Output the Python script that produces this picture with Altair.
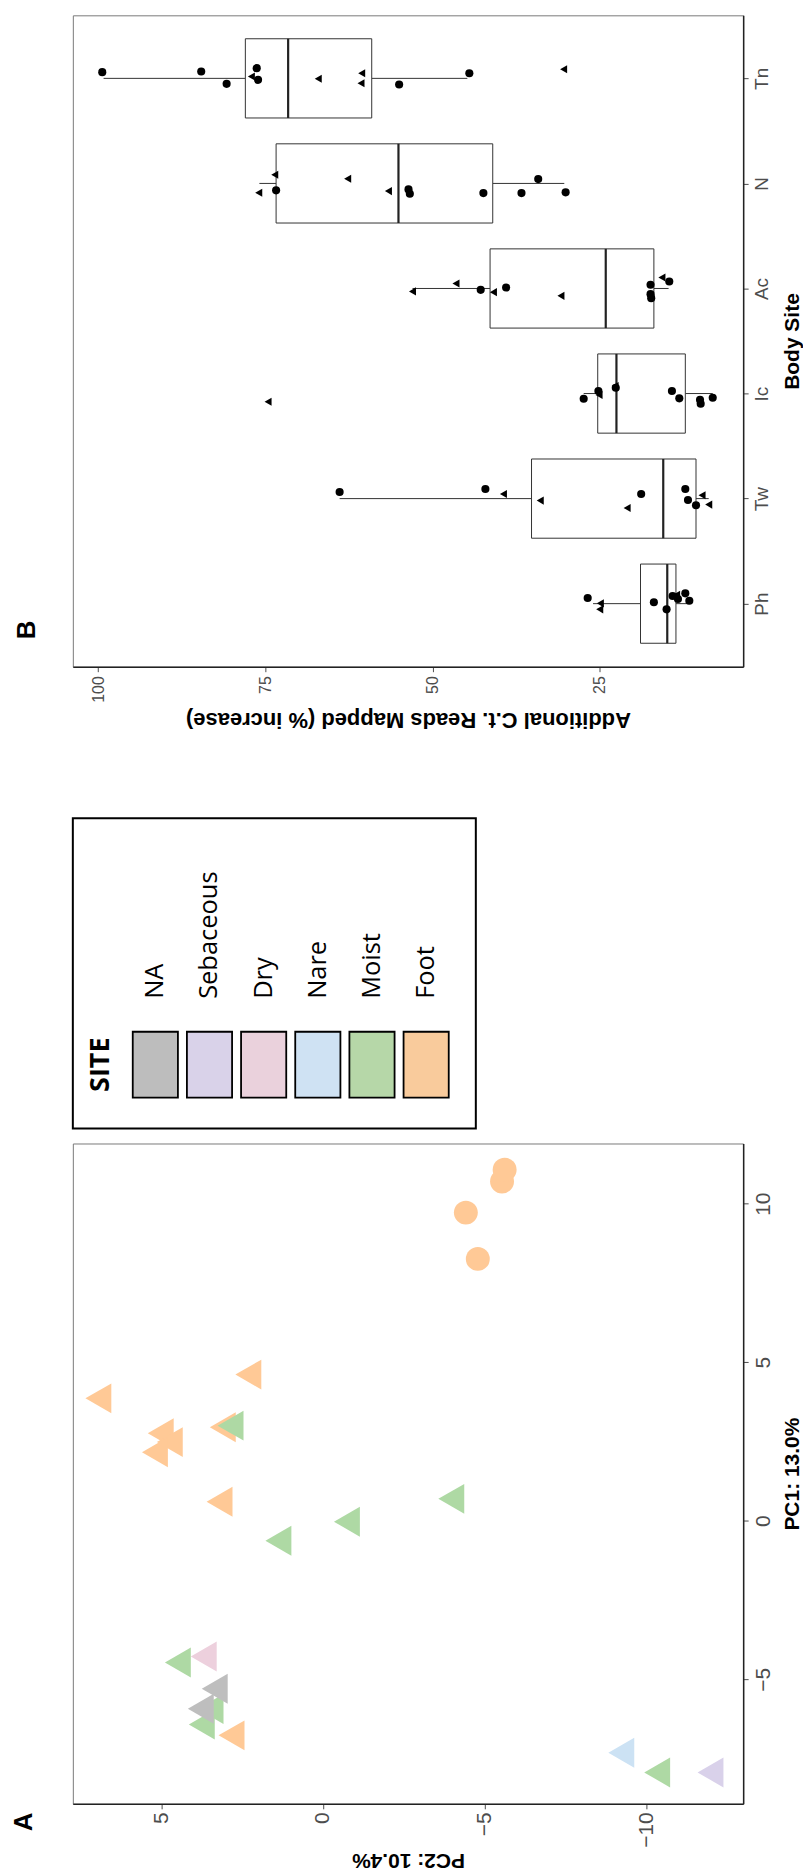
import json
import pandas as pd
import altair as alt

FONT = "Liberation Sans"

# ---------------- Panel B : body sites (box statistics + jittered points) ----------------
sites = ["Ph", "Tw", "Ic", "Ac", "N", "Tn"]
box_lo = [11.6, 8.7, 8.1, 14.7, 30.3, 44.8]
box_q1 = [13.6, 10.6, 12.2, 16.9, 41.0, 59.1]
box_med = [14.9, 15.5, 22.5, 24.1, 55.1, 71.6]
box_q3 = [18.9, 35.2, 25.3, 41.4, 73.4, 78.0]
box_hi = [26.0, 63.9, 27.4, 53.0, 75.9, 99.2]

ph_val = [26.8, 24.9, 25.0, 16.9, 15.0, 14.1, 13.5, 13.3, 12.2, 11.6]
ph_jit = [0.054, 0.003, -0.054, 0.013, -0.054, 0.073, 0.085, 0.044, 0.098, 0.028]
ph_shp = ["o", "^", "^", "o", "o", "o", "^", "o", "o", "o"]

tw_val = [63.9, 42.1, 39.4, 33.9, 18.8, 20.9, 12.2, 11.8, 10.6, 9.7, 8.7]
tw_jit = [0.063, 0.092, 0.044, -0.019, 0.044, -0.089, 0.092, -0.013, -0.063, 0.032, -0.057]
tw_shp = ["o", "o", "^", "^", "o", "^", "o", "o", "o", "^", "^"]

ic_val = [74.6, 27.4, 25.2, 25.1, 22.7, 22.6, 14.2, 13.1, 10.0, 9.9, 8.1]
ic_jit = [-0.078, -0.049, 0.024, -0.014, 0.071, 0.055, 0.024, -0.046, -0.059, -0.097, -0.040]
ic_shp = ["^", "o", "o", "^", "^", "o", "o", "o", "o", "o", "o"]

ac_val = [53.0, 46.5, 42.8, 40.9, 39.0, 30.8, 17.4, 17.4, 17.3, 15.7, 14.6]
ac_jit = [-0.028, 0.047, -0.013, -0.035, 0.009, -0.070, 0.035, -0.054, -0.092, 0.104, 0.066]
ac_shp = ["^", "^", "o", "^", "o", "^", "o", "o", "o", "^", "o"]

n_val = [73.6, 76.0, 73.4, 62.7, 56.6, 53.6, 53.4, 42.4, 36.7, 34.2, 30.1]
n_jit = [0.082, -0.089, -0.066, 0.044, -0.073, -0.057, -0.098, -0.092, -0.092, 0.041, -0.085]
n_shp = ["^", "^", "o", "^", "^", "o", "o", "o", "o", "o", "o"]

tn_val = [99.4, 84.6, 80.8, 77.1, 76.3, 76.1, 67.1, 60.6, 60.7, 55.0, 44.5, 30.4]
tn_jit = [0.059, 0.065, -0.052, 0.018, 0.097, -0.014, -0.004, 0.049, -0.046, -0.058, 0.049, 0.087]
tn_shp = ["o", "o", "o", "^", "o", "o", "^", "^", "^", "o", "o", "^"]

# ---------------- Panel A : PCA ----------------
a_pc1 = [3.86, 2.76, 2.48, 2.16, 4.61, 2.95, 0.60, -6.77,
         3.00, -0.63, -0.03, 0.69, -4.47, -5.94, -6.43, -7.94,
         -4.28, -5.30, -5.93, -7.32, -7.94,
         9.72, 8.26, 10.70, 11.07]
a_pc2 = [6.95, 5.02, 4.74, 5.20, 2.31, 3.10, 3.20, 2.83,
         2.86, 1.38, -0.74, -3.97, 4.49, 3.48, 3.75, -10.34,
         3.69, 3.35, 3.78, -9.23, -11.99,
         -4.42, -4.79, -5.54, -5.62]
a_site = ["Foot"] * 8 + ["Moist"] * 8 + ["Dry", "NA", "NA", "Nare", "Sebaceous"] + ["Foot"] * 4
a_shape = ["tri"] * 21 + ["dot"] * 4

legend_sites = ["NA", "Sebaceous", "Dry", "Nare", "Moist", "Foot"]
legend_fill = ["#BDBDBD", "#D9D2E9", "#EAD1DC", "#CFE2F3", "#B6D7A8", "#F9CB9C"]
point_colors = ["#BEBEBE", "#D9D1EA", "#EDD0DD", "#CCE2F4", "#AED9A4", "#FFC996"]

# ---------------- tables ----------------
dfBox = pd.DataFrame({"site": sites, "idx": list(range(len(sites))),
                      "lo": box_lo, "q1": box_q1, "med": box_med, "q3": box_q3, "hi": box_hi})
vals, jits, shps, names = [], [], [], []
for s, v, j, sh in [("Ph", ph_val, ph_jit, ph_shp), ("Tw", tw_val, tw_jit, tw_shp),
                    ("Ic", ic_val, ic_jit, ic_shp), ("Ac", ac_val, ac_jit, ac_shp),
                    ("N", n_val, n_jit, n_shp), ("Tn", tn_val, tn_jit, tn_shp)]:
    vals += v
    jits += j
    shps += sh
    names += [s] * len(v)
dfPts = pd.DataFrame({"site": names, "value": vals, "jit": jits, "shape": shps})
dfPts["pos"] = [sites.index(s) + j for s, j in zip(dfPts["site"], dfPts["jit"])]

dfA = pd.DataFrame({"pc1": a_pc1, "pc2": a_pc2, "site": a_site, "shape": a_shape})
dfLeg = pd.DataFrame({"name": legend_sites, "i": list(range(len(legend_sites)))})

# ---------------- Panel B chart ----------------
BW, BH = 672, 653
label_expr = json.dumps(sites) + "[datum.value]"
axBx = alt.Axis(orient="bottom", values=[25, 50, 75, 100], labelAngle=270, labelAlign="right",
                labelBaseline="middle", labelFontSize=16, labelColor="#4d4d4d", labelFont=FONT,
                labelPadding=4, tickSize=5, tickColor="#4d4d4d", domainColor="#222222", domainWidth=1.5,
                grid=False, title="Additional C.t. Reads Mapped (% increase)", titleAngle=180,
                titleBaseline="bottom", titleFontSize=22, titleFont=FONT, titleFontWeight="bold",
                titleColor="black", titlePadding=5)
axBy = alt.Axis(orient="right", values=[0, 1, 2, 3, 4, 5], labelExpr=label_expr, labelAngle=270,
                labelAlign="center", labelBaseline="top", labelFontSize=19, labelColor="#4d4d4d",
                labelFont=FONT, labelPadding=4, tickSize=5, tickColor="#4d4d4d", domainColor="#222222",
                domainWidth=1.5, grid=False, title="Body Site", titleAngle=270, titleBaseline="top",
                titleFontSize=21, titleFont=FONT, titleFontWeight="bold", titleColor="black", titlePadding=10)
xsB = alt.Scale(domain=[3.55, 103.8], reverse=True, nice=False, zero=False)
ysB = alt.Scale(domain=[-0.6, 5.6], nice=False, zero=False)


def XB(f):
    return alt.X(f, type="quantitative", scale=xsB, axis=axBx)


def YB(f):
    return alt.Y(f, type="quantitative", scale=ysB, axis=axBy)


half = 0.377
whisk_lo = alt.Chart(dfBox).mark_rule(color="#333333", strokeWidth=1).encode(x=XB("lo"), x2="q1:Q", y=YB("idx"))
whisk_hi = alt.Chart(dfBox).mark_rule(color="#333333", strokeWidth=1).encode(x=XB("q3"), x2="hi:Q", y=YB("idx"))
boxes = alt.Chart(dfBox).transform_calculate(
    y0=f"datum.idx - {half}", y1=f"datum.idx + {half}"
).mark_rect(fill="white", stroke="#333333", strokeWidth=1).encode(x=XB("q1"), x2="q3:Q", y=YB("y0"), y2="y1:Q")
medians = alt.Chart(dfBox).transform_calculate(
    y0=f"datum.idx - {half}", y1=f"datum.idx + {half}"
).mark_rule(color="#222222", strokeWidth=2.2).encode(x=XB("med"), y=YB("y0"), y2="y1:Q")
points = alt.Chart(dfPts).mark_point(filled=True, color="black", opacity=1, size=66).encode(
    x=XB("value"), y=YB("pos"),
    shape=alt.Shape("shape:N", scale=alt.Scale(domain=["o", "^"], range=["circle", "triangle-left"]), legend=None))
labB = alt.Chart(pd.DataFrame({"t": ["B"]})).mark_text(
    angle=270, align="center", baseline="middle", fontSize=26, fontWeight="bold", font=FONT, color="black"
).encode(text="t:N", x=alt.value(-46), y=alt.value(616))

panelB = alt.layer(whisk_lo, whisk_hi, boxes, medians, points, labB).properties(
    width=BW, height=BH, view=alt.ViewBackground(stroke="#7a7a7a", strokeWidth=1))

# ---------------- Legend chart ----------------
LW = 404
EXTRA = 74
LH = EXTRA + 311
xsL = alt.Scale(domain=[-1.523, 5.917], nice=False, zero=False)
leg_box = alt.Chart(pd.DataFrame({"k": [0]})).mark_rect(
    fill="white", fillOpacity=0, stroke="black", strokeWidth=2
).encode(x=alt.value(0), x2=alt.value(LW), y=alt.value(EXTRA), y2=alt.value(EXTRA + 311))
leg_sw = alt.Chart(dfLeg).transform_calculate(x0="datum.i - 0.417", x1="datum.i + 0.417").mark_rect(
    stroke="black", strokeWidth=1.8
).encode(
    x=alt.X("x0:Q", scale=xsL, axis=None), x2="x1:Q",
    y=alt.value(EXTRA + 214), y2=alt.value(EXTRA + 280),
    fill=alt.Fill("name:N", scale=alt.Scale(domain=legend_sites, range=legend_fill), legend=None))
leg_tx = alt.Chart(dfLeg).mark_text(
    angle=270, align="left", baseline="middle", fontSize=25.5, font="Open Sans", color="black"
).encode(x=alt.X("i:Q", scale=xsL, axis=None), y=alt.value(EXTRA + 181), text="name:N")
leg_title = alt.Chart(pd.DataFrame({"t": ["SITE"]})).mark_text(
    angle=270, align="center", baseline="middle", fontSize=27, fontWeight="bold", font="Open Sans", color="black"
).encode(text="t:N", x=alt.value(28.5), y=alt.value(EXTRA + 247))
legend = alt.layer(leg_box, leg_sw, leg_tx, leg_title).properties(
    width=LW, height=LH, view=alt.ViewBackground(stroke="transparent"))

# ---------------- Panel A chart ----------------
AW, AH = 672, 662
axAx = alt.Axis(orient="bottom", values=[-10, -5, 0, 5], labelAngle=270, labelAlign="right",
                labelBaseline="middle", labelFontSize=21, labelColor="#4d4d4d", labelFont=FONT,
                labelPadding=3, tickSize=5, tickColor="#4d4d4d", domainColor="#222222", domainWidth=1.5,
                grid=False, title="PC2: 10.4%", titleAngle=180, titleBaseline="bottom", titleFontSize=21,
                titleFont=FONT, titleFontWeight="bold", titleColor="black", titlePadding=2)
axAy = alt.Axis(orient="right", values=[-5, 0, 5, 10], labelAngle=270, labelAlign="center",
                labelBaseline="top", labelFontSize=21, labelColor="#4d4d4d", labelFont=FONT,
                labelPadding=4, tickSize=5, tickColor="#4d4d4d", domainColor="#222222", domainWidth=1.5,
                grid=False, title="PC1: 13.0%", titleAngle=270, titleBaseline="top", titleFontSize=21,
                titleFont=FONT, titleFontWeight="bold", titleColor="black", titlePadding=8)
xsA = alt.Scale(domain=[-13.0, 7.74], reverse=True, nice=False, zero=False)
ysA = alt.Scale(domain=[-8.93, 11.9], nice=False, zero=False)
colA = alt.Color("site:N", scale=alt.Scale(domain=legend_sites, range=point_colors), legend=None)

tri = alt.Chart(dfA).transform_filter(alt.datum.shape == "tri").mark_point(
    filled=True, opacity=1, shape="triangle-left", size=900).encode(
    x=alt.X("pc2:Q", scale=xsA, axis=axAx), y=alt.Y("pc1:Q", scale=ysA, axis=axAy), color=colA)
dot = alt.Chart(dfA).transform_filter(alt.datum.shape == "dot").mark_point(
    filled=True, opacity=1, shape="circle", size=576).encode(
    x=alt.X("pc2:Q", scale=xsA, axis=axAx), y=alt.Y("pc1:Q", scale=ysA, axis=axAy), color=colA)
labA = alt.Chart(pd.DataFrame({"t": ["A"]})).mark_text(
    angle=270, align="center", baseline="middle", fontSize=26, fontWeight="bold", font=FONT, color="black"
).encode(text="t:N", x=alt.value(-49), y=alt.value(680))

panelA = alt.layer(tri, dot, labA).properties(
    width=AW, height=AH, view=alt.ViewBackground(stroke="#7a7a7a", strokeWidth=1))

chart = alt.vconcat(panelB, legend, panelA, spacing=12).properties(
    padding={"left": 2, "top": 4, "right": 0, "bottom": 0}
).configure(background="white")

chart.save("out.html", embed_options={"renderer": "svg", "actions": False})
